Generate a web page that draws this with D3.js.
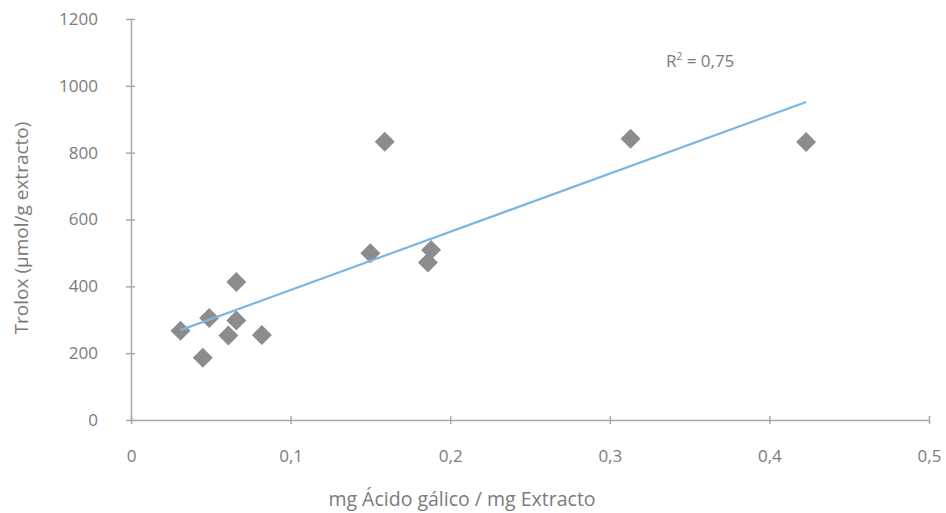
<!DOCTYPE html>
<html>
<head>
<meta charset="utf-8">
<script src="https://cdn.jsdelivr.net/npm/d3@7"></script>
<style>
  body { margin: 0; background: #fff; }
  text { font-family: "Open Sans", Lato, sans-serif; fill: #7b7b7b; }
</style>
</head>
<body>
<svg id="chart" width="946" height="513"></svg>
<script>
// values
var gallic = [0.031, 0.045, 0.049, 0.061, 0.066, 0.066, 0.082, 0.150, 0.159, 0.188, 0.186, 0.313, 0.423];
var trolox = [267, 186, 305, 253, 413, 298, 254, 499, 833, 509, 471, 842, 832];
var xTicks = [0, 0.1, 0.2, 0.3, 0.4, 0.5];
var yTicks = [0, 200, 400, 600, 800, 1000, 1200];
var r2Label = "0,75";

var width = 946, height = 513;
var svg = d3.select("#chart");

var x = d3.scaleLinear().domain([0, 0.5]).range([131, 929]);
var y = d3.scaleLinear().domain([0, 1200]).range([420, 19]);

var fmt = function(d) { return String(d).replace(".", ","); };

// axes
var xAxis = svg.append("g")
  .attr("transform", "translate(0,420)")
  .call(d3.axisBottom(x).tickValues(xTicks).tickFormat(fmt).tickSizeInner(0).tickSizeOuter(0).tickPadding(30));
var yAxis = svg.append("g")
  .attr("transform", "translate(131,0)")
  .call(d3.axisLeft(y).tickValues(yTicks).tickFormat(fmt).tickSizeInner(0).tickSizeOuter(0).tickPadding(33));

[xAxis, yAxis].forEach(function(a) {
  a.select(".domain").attr("stroke", "#a8a8a8").attr("stroke-width", 1.5);
  a.selectAll("text").attr("font-size", 17).attr("fill", "#7b7b7b")
    .style("font-family", "'Open Sans', Lato, sans-serif");
});

// small ticks crossing the axis lines
xAxis.selectAll(".tick").append("line")
  .attr("y1", -4).attr("y2", 4).attr("stroke", "#a8a8a8").attr("stroke-width", 1.5);
yAxis.selectAll(".tick").append("line")
  .attr("x1", -5).attr("x2", 4).attr("stroke", "#a8a8a8").attr("stroke-width", 1.5);

// least squares trend line
var pts = gallic.map(function(g, i) { return {x: g, y: trolox[i]}; });
var mx = d3.mean(pts, function(d) { return d.x; });
var my = d3.mean(pts, function(d) { return d.y; });
var sxy = d3.sum(pts, function(d) { return (d.x - mx) * (d.y - my); });
var sxx = d3.sum(pts, function(d) { return (d.x - mx) * (d.x - mx); });
var slope = sxy / sxx, icpt = my - slope * mx;
var ext = d3.extent(gallic);

// markers
var diamond = function(r) { return "M0," + (-r) + "L" + r + ",0L0," + r + "L" + (-r) + ",0Z"; };
svg.append("g").selectAll("path")
  .data(pts)
  .enter()
  .append("path")
  .attr("d", diamond(10))
  .attr("transform", function(d) { return "translate(" + x(d.x) + "," + y(d.y) + ")"; })
  .attr("fill", "#8c8c8f");

svg.append("line")
  .attr("x1", x(ext[0])).attr("y1", y(icpt + slope * ext[0]))
  .attr("x2", x(ext[1])).attr("y2", y(icpt + slope * ext[1]))
  .attr("stroke", "#7ab6e2").attr("stroke-width", 2.2);

// R2 label
var r2 = svg.append("text")
  .attr("x", 666).attr("y", 67)
  .attr("font-size", 17);
r2.append("tspan").text("R");
r2.append("tspan").attr("font-size", 10).attr("dy", -7).text("2");
r2.append("tspan").attr("dy", 7).text(" = " + r2Label);

// axis titles
svg.append("text")
  .attr("x", 462).attr("y", 506)
  .attr("text-anchor", "middle")
  .attr("font-size", 19.5)
  .text("mg Ácido gálico / mg Extracto");

svg.append("text")
  .attr("transform", "translate(28,228) rotate(-90)")
  .attr("text-anchor", "middle")
  .attr("font-size", 19)
  .text("Trolox (µmol/g extracto)");
</script>
</body>
</html>
